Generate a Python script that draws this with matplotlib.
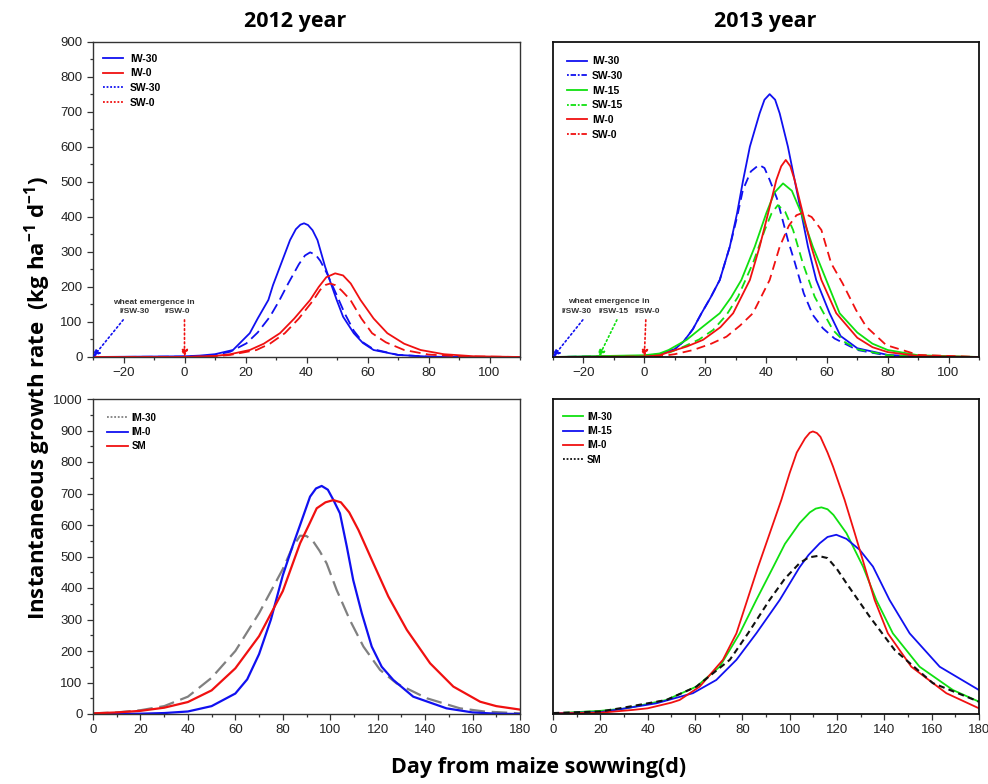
import matplotlib
matplotlib.use("Agg")
import matplotlib.pyplot as plt
from matplotlib.lines import Line2D
from matplotlib.ticker import MultipleLocator

plt.rcParams['font.family'] = ['Liberation Sans', 'DejaVu Sans']
plt.rcParams['mathtext.fontset'] = 'custom'
plt.rcParams['mathtext.rm'] = 'Open Sans:bold'
plt.rcParams['mathtext.bf'] = 'Open Sans:bold'
plt.rcParams['mathtext.default'] = 'bf'

# ---- 2012, wheat (top left) ----
iw30_12_x = [-30, 0, 5, 10, 15.9, 21.4, 24, 27.5, 29, 31.3, 34.6, 36.5, 38, 39.2, 40.5, 42, 43.6, 46.1, 48, 49.9, 52, 55.5, 58.5, 62, 70, 80, 90, 110]
iw30_12_y = [0, 2, 4, 8, 20, 68, 110, 163, 205, 258, 334, 365, 378, 382, 377, 362, 334, 258, 210, 163, 115, 68, 40, 20, 6, 1, 0, 0]
sw30_12_x = [-30, 0, 5, 10, 15, 20.3, 24, 28, 31, 34, 37.5, 39.5, 41.2, 43, 44.5, 46.7, 50, 52.5, 55.5, 58.5, 62, 70, 80, 90, 110]
sw30_12_y = [0, 1, 3, 6, 15, 39, 70, 115, 160, 210, 265, 290, 299, 292, 275, 239, 175, 125, 75, 42, 22, 6, 1, 0, 0]
iw0_12_x = [-30, 0, 10, 15, 21.4, 26, 31.3, 36, 41.2, 44, 46.5, 49.4, 52, 54.5, 57.7, 62, 66.5, 72, 77.4, 85, 95, 110]
iw0_12_y = [0, 0, 3, 8, 20, 38, 68, 110, 163, 200, 228, 239, 233, 210, 163, 110, 68, 38, 20, 8, 2, 0]
sw0_12_x = [-30, 0, 10, 15, 23.6, 28, 32.9, 37.5, 42.3, 44.5, 46.3, 47.8, 49.5, 51.5, 54.4, 58, 61.5, 66, 72, 80, 90, 110]
sw0_12_y = [0, 0, 2, 6, 20, 38, 68, 110, 163, 192, 206, 210, 205, 190, 163, 110, 68, 42, 20, 7, 2, 0]

# ---- 2013, wheat (top right) ----
iw30_13_x = [-30, 0, 5, 10, 13, 16, 18.8, 21.8, 24.8, 28.1, 30.5, 32.5, 34.7, 37.9, 39.5, 41.2, 43, 44.5, 47.2, 49.4, 51.6, 53.8, 56.5, 60.9, 64.5, 70, 80, 90, 110]
iw30_13_y = [0, 3, 8, 22, 45, 80, 125, 170, 220, 315, 411, 506, 601, 696, 735, 751, 735, 696, 601, 506, 411, 315, 220, 125, 60, 25, 6, 1, 0]
sw30_13_x = [-30, 0, 5, 10, 13, 16, 18.8, 21.8, 24.8, 28.1, 30.5, 32.4, 35, 37.7, 39.5, 41.2, 43.6, 47.2, 49.4, 52.4, 55.4, 58.7, 62.5, 70, 80, 90, 110]
sw30_13_y = [0, 3, 8, 22, 45, 80, 125, 170, 220, 315, 400, 477, 530, 549, 540, 506, 453, 334, 272, 182, 120, 82, 53, 20, 4, 1, 0]
iw15_13_x = [-30, 0, 5, 8, 13.9, 19, 24.8, 28.5, 31.9, 36.3, 40.1, 42.8, 45.6, 48.5, 51.6, 55.4, 59.8, 64.2, 70, 75, 80, 90, 110]
iw15_13_y = [0, 5, 10, 20, 49, 85, 125, 170, 220, 315, 411, 470, 496, 475, 411, 315, 220, 125, 70, 38, 20, 5, 0]
sw15_13_x = [-30, 0, 5, 8, 12.8, 18, 22.6, 27, 30.8, 35.7, 39.6, 41.8, 43.9, 46.3, 48.9, 52.1, 56, 62, 66, 70, 80, 90, 110]
sw15_13_y = [0, 3, 6, 12, 29, 50, 77, 120, 172, 268, 363, 410, 434, 415, 363, 268, 172, 77, 42, 22, 5, 1, 0]
iw0_13_x = [-30, 0, 5, 8.4, 14, 19.3, 25, 29.2, 34.7, 37.9, 40.7, 43.4, 45, 46.5, 48, 49.4, 52.1, 54.9, 58.2, 63.1, 70, 75, 80, 90, 110]
iw0_13_y = [0, 1, 5, 15, 30, 49, 85, 125, 220, 315, 411, 506, 545, 563, 545, 506, 411, 315, 220, 125, 55, 28, 14, 3, 0]
sw0_13_x = [-30, 0, 5, 10, 16.1, 22, 27, 31.5, 35.7, 41.2, 44.5, 47.5, 50, 52.1, 55, 58.2, 61.4, 65.2, 69.6, 72.9, 79.5, 90, 110]
sw0_13_y = [0, 1, 2, 8, 20, 38, 58, 90, 125, 220, 315, 375, 405, 412, 400, 363, 268, 210, 134, 87, 34, 6, 0]

# ---- 2012, maize (bottom left) ----
im30_12_x = [0, 10, 20, 30, 40, 50, 60, 70, 75, 80, 84, 87.3, 90, 92.9, 95.5, 98.5, 102.7, 108.3, 114, 121, 128, 140.7, 154.7, 165, 180]
im30_12_y = [2, 5, 12, 25, 55, 115, 200, 320, 390, 460, 528, 566, 565, 547, 518, 478, 394, 298, 214, 140, 97, 50, 18, 8, 2]
im0_12_x = [0, 20, 30, 40, 50, 60, 65, 70, 75, 80, 84, 87.3, 91.5, 94, 96.4, 99, 101.3, 104.1, 107, 109.7, 113.3, 117.5, 121.7, 126.6, 135, 149, 160, 170, 180]
im0_12_y = [0, 1, 3, 8, 25, 65, 110, 190, 300, 440, 530, 600, 690, 716, 724, 712, 680, 637, 531, 425, 320, 214, 150, 108, 55, 18, 5, 1, 0]
sm_12_x = [0, 10, 20, 30, 40, 50, 60, 70, 80, 87.3, 91, 94.3, 98, 101.3, 104.5, 108, 111.9, 118.2, 124.5, 132.3, 142.1, 151.9, 163.2, 170, 180]
sm_12_y = [2, 5, 10, 20, 38, 75, 145, 247, 390, 542, 600, 653, 672, 679, 672, 640, 584, 478, 373, 267, 161, 87, 39, 25, 14]

# ---- 2013, maize (bottom right) ----
im30_13_x = [0, 20, 31, 47.9, 60.6, 70.4, 78.9, 85.9, 93, 98, 104.2, 108.5, 111, 113.4, 116, 118.5, 124, 131, 136.6, 143.6, 154.9, 169, 180]
im30_13_y = [2, 10, 18, 44.5, 87, 150, 256, 362, 466, 540, 606, 640, 652, 656, 650, 632, 574, 468, 362, 256, 150, 76, 39]
im15_13_x = [0, 20, 28.2, 43.7, 59.1, 69, 77.5, 85.9, 95.8, 104.2, 108, 112.7, 116, 119.7, 124, 129.6, 135.2, 142.2, 150.7, 163.4, 180]
im15_13_y = [2, 6, 15, 34, 66, 108, 172, 256, 362, 466, 505, 542, 562, 569, 556, 521, 468, 362, 256, 150, 76]
im0_13_x = [0, 20, 33.8, 40, 50, 53.5, 62, 71.8, 77.5, 86.6, 96.5, 100, 103, 106.5, 108.5, 109.8, 111.5, 113, 116, 118.3, 123.2, 127.5, 131.7, 135.9, 141.5, 151.4, 166.2, 180]
im0_13_y = [2, 4, 13, 18, 36, 44.5, 87, 172, 256, 466, 680, 765, 830, 875, 893, 897, 892, 880, 830, 786, 680, 574, 468, 362, 256, 150, 66, 18]
sm_13_x = [0, 20, 28.2, 47.9, 60.6, 74.7, 82.4, 91.5, 98, 104.2, 108, 112, 116, 120, 124, 133.8, 144.4, 160.5, 180]
sm_13_y = [3, 8, 18, 44.5, 87, 172, 256, 362, 430, 479, 497, 502, 495, 460, 415, 309, 203, 98, 39]

BLUE = '#1010f0'
RED = '#f01010'
GREEN = '#10e010'
GRAY = '#808080'
LW = 1.3

W, H = 988, 784
fig = plt.figure(figsize=(W / 100, H / 100), dpi=100)


def box(l, t, r, b):
    return [l / W, 1 - b / H, (r - l) / W, (b - t) / H]


ax1 = fig.add_axes(box(93, 42, 520, 357))
ax2 = fig.add_axes(box(553, 42, 979, 357))
ax3 = fig.add_axes(box(93, 399, 520, 714))
ax4 = fig.add_axes(box(553, 399, 979, 714))

for ax in (ax1, ax2, ax3, ax4):
    for s in ax.spines.values():
        s.set_color('#333333')
        s.set_linewidth(1.0)
    ax.tick_params(which='both', direction='out', color='#333333', labelcolor='#222222',
                   labelsize=9.5, width=0.9)
    ax.tick_params(which='major', length=4)
    ax.tick_params(which='minor', length=2.5)
    ax.xaxis.set_major_locator(MultipleLocator(20))
    ax.xaxis.set_minor_locator(MultipleLocator(10))

for ax in (ax1, ax2):
    ax.set_xlim(-30, 110)
    ax.set_ylim(0, 900)
for ax in (ax3, ax4):
    ax.set_xlim(0, 180)
    ax.set_ylim(0, 1000)
for ax in (ax1, ax3):
    ax.yaxis.set_major_locator(MultipleLocator(100))
    ax.yaxis.set_minor_locator(MultipleLocator(50))
for ax in (ax2, ax4):
    ax.set_yticks([])
    for s in ax.spines.values():
        s.set_color('#111111')
        s.set_linewidth(1.3)

dash_long = (0, (6, 3))
dash_mid = (0, (5, 3))
leg_kw = dict(loc='upper left', frameon=False, borderaxespad=0, borderpad=0)

# top left
ax1.plot(iw30_12_x, iw30_12_y, color=BLUE, lw=LW)
ax1.plot(sw30_12_x, sw30_12_y, color=BLUE, lw=LW, ls=dash_long)
ax1.plot(iw0_12_x, iw0_12_y, color=RED, lw=LW)
ax1.plot(sw0_12_x, sw0_12_y, color=RED, lw=LW, ls=dash_long)
h1 = [Line2D([], [], color=BLUE, lw=LW), Line2D([], [], color=RED, lw=LW),
      Line2D([], [], color=BLUE, lw=LW, ls=(0, (1, 1))), Line2D([], [], color=RED, lw=LW, ls=(0, (1, 1)))]
ax1.legend(h1, ['IW-30', 'IW-0', 'SW-30', 'SW-0'], bbox_to_anchor=(0.023, 0.963),
           prop={'weight': 'bold', 'size': 7.5}, handlelength=1.9, handletextpad=0.7,
           labelspacing=0.45, **leg_kw)

# top right
ax2.plot(iw30_13_x, iw30_13_y, color=BLUE, lw=LW)
ax2.plot(sw30_13_x, sw30_13_y, color=BLUE, lw=LW, ls=dash_mid)
ax2.plot(iw15_13_x, iw15_13_y, color=GREEN, lw=LW)
ax2.plot(sw15_13_x, sw15_13_y, color=GREEN, lw=LW, ls=dash_mid)
ax2.plot(iw0_13_x, iw0_13_y, color=RED, lw=LW)
ax2.plot(sw0_13_x, sw0_13_y, color=RED, lw=LW, ls=dash_mid)
dd = (0, (1, 1, 3, 1))
h2 = [Line2D([], [], color=BLUE, lw=LW), Line2D([], [], color=BLUE, lw=LW, ls=dd),
      Line2D([], [], color=GREEN, lw=LW), Line2D([], [], color=GREEN, lw=LW, ls=dd),
      Line2D([], [], color=RED, lw=LW), Line2D([], [], color=RED, lw=LW, ls=dd)]
ax2.legend(h2, ['IW-30', 'SW-30', 'IW-15', 'SW-15', 'IW-0', 'SW-0'], bbox_to_anchor=(0.033, 0.955),
           prop={'weight': 'bold', 'size': 7.5}, handlelength=1.9, handletextpad=0.5,
           labelspacing=0.45, **leg_kw)

# wheat emergence annotations
ann = dict(fontsize=6, fontweight='bold', color='#333333', ha='center', va='center')
arr = dict(arrowstyle='-|>', ls=':', lw=1.2, shrinkA=0, shrinkB=0, mutation_scale=10)
ax1.text(-9.9, 157, 'wheat emergence in', **ann)
ax1.text(-16.5, 129, 'I/SW-30', **ann)
ax1.text(-2.3, 129, 'I/SW-0', **ann)
for (x0, x1, c) in [(-20.1, -30, BLUE), (0, 0, RED)]:
    ax1.annotate('', xy=(x1, 0), xytext=(x0, 106), arrowprops=dict(color=c, **arr))
ax2.text(-11.8, 158, 'wheat emergence in', **ann)
ax2.text(-22.2, 130, 'I/SW-30', **ann)
ax2.text(-10.2, 130, 'I/SW-15', **ann)
ax2.text(1.1, 130, 'I/SW-0', **ann)
for (x0, x1, c) in [(-20.2, -30, BLUE), (-9.0, -15, GREEN), (0.5, 0, RED)]:
    ax2.annotate('', xy=(x1, 0), xytext=(x0, 106), arrowprops=dict(color=c, **arr))

# bottom left
ax3.plot(im30_12_x, im30_12_y, color=GRAY, lw=1.6, ls=(0, (7, 3)))
ax3.plot(im0_12_x, im0_12_y, color=BLUE, lw=1.6)
ax3.plot(sm_12_x, sm_12_y, color=RED, lw=1.6)
h3 = [Line2D([], [], color=GRAY, lw=LW, ls=(0, (1, 1))), Line2D([], [], color=BLUE, lw=LW),
      Line2D([], [], color=RED, lw=LW)]
ax3.legend(h3, ['IM-30', 'IM-0', 'SM'], bbox_to_anchor=(0.033, 0.957),
           prop={'weight': 'bold', 'size': 7}, handlelength=2.1, handletextpad=0.4,
           labelspacing=0.45, **leg_kw)

# bottom right
ax4.plot(im30_13_x, im30_13_y, color=GREEN, lw=LW)
ax4.plot(im15_13_x, im15_13_y, color=BLUE, lw=LW)
ax4.plot(im0_13_x, im0_13_y, color=RED, lw=LW)
ax4.plot(sm_13_x, sm_13_y, color='#111111', lw=1.5, ls=(0, (3, 2)))
h4 = [Line2D([], [], color=GREEN, lw=LW), Line2D([], [], color=BLUE, lw=LW),
      Line2D([], [], color=RED, lw=LW), Line2D([], [], color='#111111', lw=LW, ls=(0, (1, 1)))]
ax4.legend(h4, ['IM-30', 'IM-15', 'IM-0', 'SM'], bbox_to_anchor=(0.023, 0.96),
           prop={'weight': 'bold', 'size': 7}, handlelength=2.1, handletextpad=0.4,
           labelspacing=0.45, **leg_kw)

title_font = dict(family='Open Sans', weight='bold', size=15.5)
fig.text(295 / W, 1 - 22 / H, '2012 year', ha='center', va='center', **title_font)
fig.text(765 / W, 1 - 22 / H, '2013 year', ha='center', va='center', **title_font)
fig.text(38 / W, 1 - 398 / H, 'Instantaneous growth rate  (kg ha$^{-1}$ d$^{-1}$)', rotation=90,
         ha='center', va='center', family='Open Sans', weight='bold', size=16)
fig.text(539 / W, 1 - 767 / H, 'Day from maize sowwing(d)', ha='center', va='center',
         family='Open Sans', weight='bold', size=15.5)

fig.savefig('out.png', dpi=100)
